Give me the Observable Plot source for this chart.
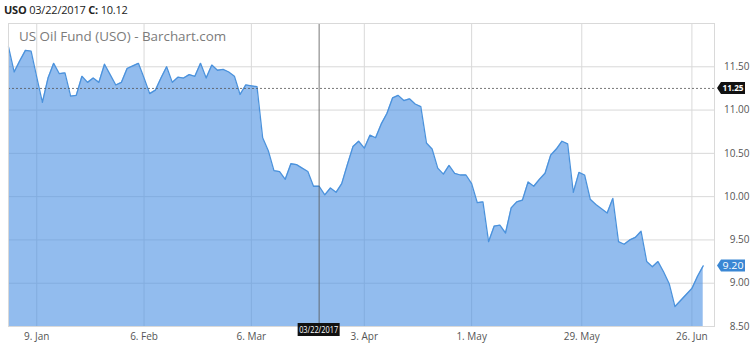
<!DOCTYPE html>
<html><head><meta charset="utf-8">
<script src="https://cdn.jsdelivr.net/npm/d3@7"></script>
<script src="https://cdn.jsdelivr.net/npm/@observablehq/plot@0.6"></script>
<style>
body{margin:0;background:#fff;font-family:"Open Sans",sans-serif;}
#wrap{position:relative;width:750px;height:344px;overflow:hidden;}
#hdr{position:absolute;left:4px;top:2px;font-size:11px;color:#222;letter-spacing:-0.2px;}
#ttl{position:absolute;left:19px;top:27px;font-size:13.4px;color:#7b7b7b;}
</style></head><body>
<div id="wrap"><div id="chart"></div>
<div id="hdr"><b>USO</b> 03/22/2017 <b>C:</b> 10.12</div>
<div id="ttl">US Oil Fund (USO) - Barchart.com</div></div>
<script>
// trading days (ordinal x axis, one slot per session)
const dates = [
"2016-12-30",
"2017-01-03","2017-01-04","2017-01-05","2017-01-06","2017-01-09","2017-01-10","2017-01-11","2017-01-12","2017-01-13","2017-01-17",
"2017-01-18","2017-01-19","2017-01-20","2017-01-23","2017-01-24","2017-01-25","2017-01-26","2017-01-27","2017-01-30","2017-01-31",
"2017-02-01","2017-02-02","2017-02-03","2017-02-06","2017-02-07","2017-02-08","2017-02-09","2017-02-10","2017-02-13","2017-02-14",
"2017-02-15","2017-02-16","2017-02-17","2017-02-21","2017-02-22","2017-02-23","2017-02-24","2017-02-27","2017-02-28",
"2017-03-01","2017-03-02","2017-03-03","2017-03-06","2017-03-07","2017-03-08","2017-03-09","2017-03-10","2017-03-13","2017-03-14",
"2017-03-15","2017-03-16","2017-03-17","2017-03-20","2017-03-21","2017-03-22","2017-03-23","2017-03-24","2017-03-27","2017-03-28",
"2017-03-29","2017-03-30","2017-03-31",
"2017-04-03","2017-04-04","2017-04-05","2017-04-06","2017-04-07","2017-04-10","2017-04-11","2017-04-12","2017-04-13","2017-04-17",
"2017-04-18","2017-04-19","2017-04-20","2017-04-21","2017-04-24","2017-04-25","2017-04-26","2017-04-27","2017-04-28",
"2017-05-01","2017-05-02","2017-05-03","2017-05-04","2017-05-05","2017-05-08","2017-05-09","2017-05-10","2017-05-11","2017-05-12",
"2017-05-15","2017-05-16","2017-05-17","2017-05-18","2017-05-19","2017-05-22","2017-05-23","2017-05-24","2017-05-25","2017-05-26",
"2017-05-30","2017-05-31",
"2017-06-01","2017-06-02","2017-06-05","2017-06-06","2017-06-07","2017-06-08","2017-06-09","2017-06-12","2017-06-13","2017-06-14",
"2017-06-15","2017-06-16","2017-06-19","2017-06-20","2017-06-21","2017-06-22","2017-06-23","2017-06-26","2017-06-27","2017-06-28"
];
const closes = [
11.73,
11.44,11.57,11.69,11.68,11.38,11.09,11.37,11.54,11.42,11.43,
11.16,11.17,11.39,11.32,11.37,11.32,11.53,11.41,11.29,11.32,
11.48,11.51,11.54,11.37,11.19,11.23,11.37,11.50,11.32,11.38,
11.37,11.41,11.39,11.54,11.37,11.52,11.46,11.47,11.44,
11.39,11.18,11.29,11.28,11.27,10.68,10.53,10.30,10.29,10.20,
10.38,10.37,10.33,10.29,10.12,10.12,10.02,10.10,10.05,10.15,
10.37,10.58,10.64,
10.56,10.71,10.68,10.84,10.96,11.14,11.17,11.11,11.13,11.07,
11.04,10.62,10.55,10.33,10.26,10.36,10.27,10.25,10.25,
10.15,9.93,9.94,9.48,9.66,9.67,9.58,9.87,9.94,9.96,
10.17,10.12,10.20,10.27,10.48,10.55,10.64,10.61,10.05,10.28,
10.25,9.97,
9.91,9.86,9.81,9.98,9.48,9.45,9.50,9.53,9.60,9.25,
9.19,9.25,9.13,8.99,8.73,8.80,8.87,8.94,9.08,9.20
];
const xTickPos = [5, 24, 43, 63, 82, 101.5, 121];
const xTickLabels = ["9. Jan","6. Feb","6. Mar","3. Apr","1. May","29. May","26. Jun"];
const yTicks = [8.5, 9, 9.5, 10, 10.5, 11, 11.5];
const crossIndex = 55;      // 03/22/2017
const crossPrice = 11.25;
const crossDateLabel = "03/22/2017";

const data = closes.map((c, i) => ({i, date: dates[i], close: c}));
const lastClose = closes[closes.length - 1];
const labelMap = new Map(xTickPos.map((p, k) => [p, xTickLabels[k]]));

const chart = Plot.plot({
  width: 750, height: 344,
  marginLeft: 8, marginRight: 36, marginTop: 23, marginBottom: 18,
  style: {fontFamily: "'Open Sans', sans-serif", fontSize: "10px", background: "#fff"},
  x: {type: "linear", domain: [0, 125], label: null},
  y: {domain: [8.5, 12], label: null},
  marks: [
    Plot.gridY(yTicks, {stroke: "#d9d9d9", strokeOpacity: 1}),
    Plot.gridX(xTickPos, {stroke: "#d9d9d9", strokeOpacity: 1}),
    Plot.areaY(data, {x: "i", y1: 8.5, y2: "close", fill: "#4a90e2", fillOpacity: 0.6}),
    Plot.lineY(data, {x: "i", y: "close", stroke: "#4b92dc", strokeWidth: 1.3}),
    Plot.ruleX([crossIndex], {stroke: "#555", strokeWidth: 0.8}),
    Plot.ruleY([crossPrice], {stroke: "#555", strokeWidth: 0.8, strokeDasharray: "2,2"}),
    Plot.frame({stroke: "#d9d9d9"}),
    Plot.axisX(xTickPos, {label: null, tickSize: 0, tickPadding: 6, tickFormat: d => labelMap.get(d), fill: "#555", fontSize: 10}),
    Plot.axisY(yTicks, {label: null, anchor: "right", tickSize: 0, textAnchor: "end", dx: 26, tickFormat: d => d.toFixed(2), fill: "#555", fontSize: 10})
  ]
});
document.getElementById("chart").appendChild(chart);

// price / date tags positioned through the chart's own scales
const sx = chart.scale("x"), sy = chart.scale("y");
const svg = d3.select(chart);
const xr = sx.apply(125);
function priceTag(v, fill, bold) {
  const y = sy.apply(v);
  const g = svg.append("g");
  g.append("path")
    .attr("d", `M${xr + 3},${y} L${xr + 7},${y - 6} L${xr + 31},${y - 6} L${xr + 31},${y + 6} L${xr + 7},${y + 6} Z`)
    .attr("fill", fill);
  g.append("text").attr("x", xr + 19).attr("y", y).attr("dy", "0.35em")
    .attr("text-anchor", "middle").attr("fill", "#fff")
    .attr("font-size", 9.5).attr("font-weight", bold ? "bold" : "normal")
    .attr("font-family", "'Open Sans', sans-serif")
    .attr("textLength", 21).attr("lengthAdjust", "spacingAndGlyphs")
    .text(v.toFixed(2));
}
priceTag(crossPrice, "#111", true);
priceTag(lastClose, "#3a87d4", false);

const cx = sx.apply(crossIndex), yb = sy.apply(8.5);
const dg = svg.append("g");
dg.append("rect").attr("x", cx - 21).attr("y", yb - 3).attr("width", 42).attr("height", 13).attr("fill", "#111");
dg.append("text").attr("x", cx).attr("y", yb + 3.5).attr("dy", "0.35em")
  .attr("text-anchor", "middle").attr("fill", "#fff").attr("font-size", 9)
  .attr("font-family", "'Open Sans', sans-serif")
  .attr("textLength", 39).attr("lengthAdjust", "spacingAndGlyphs")
  .text(crossDateLabel);
</script>
</body></html>
